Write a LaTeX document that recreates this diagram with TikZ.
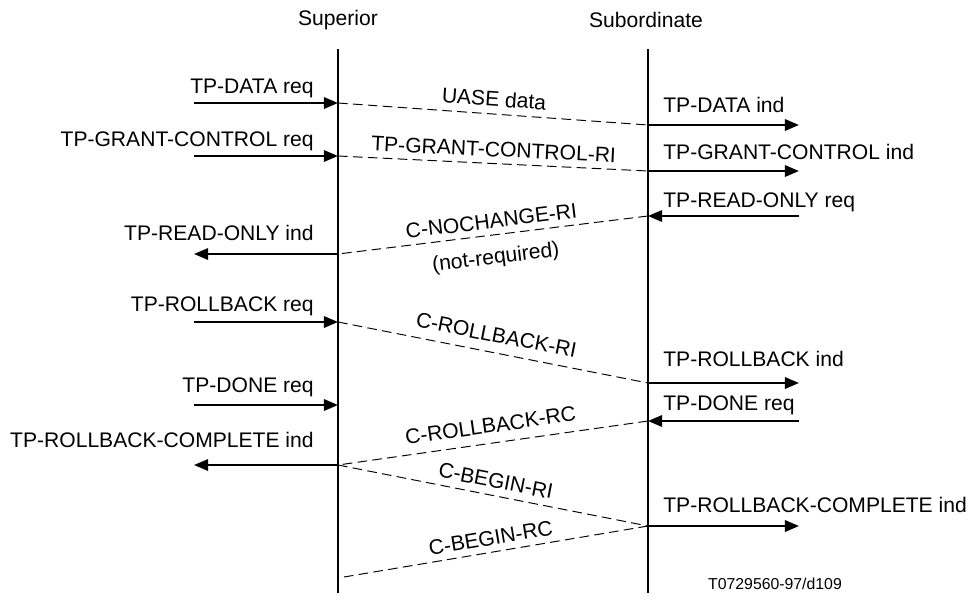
\documentclass[tikz,border=0pt]{standalone}
\usepackage{fontspec}
\setmainfont{Liberation Sans}
\usepackage{tikz}
\usetikzlibrary{arrows.meta,positioning}

\begin{document}
\begin{tikzpicture}[
  x=0.02cm, y=-0.02cm,
  lbl/.style={font=\fontsize{12}{14}\selectfont, inner sep=0pt},
  life/.style={line width=1.1pt},
  prim/.style={line width=1.1pt, -{Triangle[length=8pt,width=6.5pt]}},
  pdu/.style={line width=0.55pt, dash pattern=on 5.5pt off 3pt},
  pdulbl/.style={font=\fontsize{12}{14}\selectfont, sloped, inner sep=2.5pt}]
\useasboundingbox (0,0) rectangle (971,599);

% lifelines
\node[lbl] (sup) at (338,20) {Superior};
\node[lbl] (sub) at (646,20) {Subordinate};
\coordinate (supTop) at (338,49);
\coordinate (supBot) at (338,593);
\coordinate (subTop) at (648,49);
\coordinate (subBot) at (648,593);
\draw[life] (supTop) -- (supBot);
\draw[life] (subTop) -- (subBot);

% superior side
\coordinate (p1) at (338,103); \coordinate (p1o) at (194,103);
\coordinate (p2) at (338,156); \coordinate (p2o) at (194,156);
\coordinate (p3) at (338,254); \coordinate (p3o) at (194,254);
\coordinate (p4) at (338,322); \coordinate (p4o) at (194,322);
\coordinate (p5) at (338,405); \coordinate (p5o) at (194,405);
\coordinate (p6) at (338,465); \coordinate (p6o) at (194,465);
\coordinate (p7) at (338,578);
\node[lbl, anchor=base east] (p1l) at (314,93) {TP-DATA req};
\node[lbl, anchor=base east] (p2l) at (314,146) {TP-GRANT-CONTROL req};
\node[lbl, anchor=base east] (p3l) at (314,240) {TP-READ-ONLY ind};
\node[lbl, anchor=base east] (p4l) at (314,311) {TP-ROLLBACK req};
\node[lbl, anchor=base east] (p5l) at (314,392) {TP-DONE req};
\node[lbl, anchor=base east] (p6l) at (314,447) {TP-ROLLBACK-COMPLETE ind};
\draw[prim] (p1o) -- (p1);
\draw[prim] (p2o) -- (p2);
\draw[prim] (p3) -- (p3o);
\draw[prim] (p4o) -- (p4);
\draw[prim] (p5o) -- (p5);
\draw[prim] (p6) -- (p6o);

% subordinate side
\coordinate (q1) at (648,125); \coordinate (q1o) at (799,125);
\coordinate (q2) at (648,171); \coordinate (q2o) at (799,171);
\coordinate (q3) at (648,216); \coordinate (q3o) at (799,216);
\coordinate (q4) at (648,383); \coordinate (q4o) at (799,383);
\coordinate (q5) at (648,421); \coordinate (q5o) at (799,421);
\coordinate (q6) at (648,526); \coordinate (q6o) at (799,526);
\node[lbl, anchor=base west] (q1l) at (663,112) {TP-DATA ind};
\node[lbl, anchor=base west] (q2l) at (663,159) {TP-GRANT-CONTROL ind};
\node[lbl, anchor=base west] (q3l) at (663,207) {TP-READ-ONLY req};
\node[lbl, anchor=base west] (q4l) at (663,366) {TP-ROLLBACK ind};
\node[lbl, anchor=base west] (q5l) at (663,410) {TP-DONE req};
\node[lbl, anchor=base west] (q6l) at (663,512) {TP-ROLLBACK-COMPLETE ind};
\draw[prim] (q1) -- (q1o);
\draw[prim] (q2) -- (q2o);
\draw[prim] (q3o) -- (q3);
\draw[prim] (q4) -- (q4o);
\draw[prim] (q5o) -- (q5);
\draw[prim] (q6) -- (q6o);

% protocol elements
\draw[pdu] (p1) -- node[pdulbl, above=1.5pt] (m1) {UASE data} (q1);
\draw[pdu] (p2) -- node[pdulbl, above=1pt] (m2) {TP-GRANT-CONTROL-RI} (q2);
\draw[pdu] (q3) -- node[pdulbl, above=1pt] (m3) {C-NOCHANGE-RI}
                   node[pdulbl, below=5pt] (m3b) {(not-required)} (p3);
\draw[pdu] (p4) -- node[pdulbl, above=3pt] (m4) {C-ROLLBACK-RI} (q4);
\draw[pdu] (q5) -- node[pdulbl, above=3pt] (m5) {C-ROLLBACK-RC} (p6);
\draw[pdu] (p6) -- node[pdulbl, above=1.5pt] (m6) {C-BEGIN-RI} (q6);
\draw[pdu] (q6) -- node[pdulbl, above=1pt] (m7) {C-BEGIN-RC} (p7);

\node[font=\fontsize{9}{11}\selectfont, inner sep=0pt] (tag) at (775,584) {T0729560-97/d109};
\end{tikzpicture}
\end{document}
